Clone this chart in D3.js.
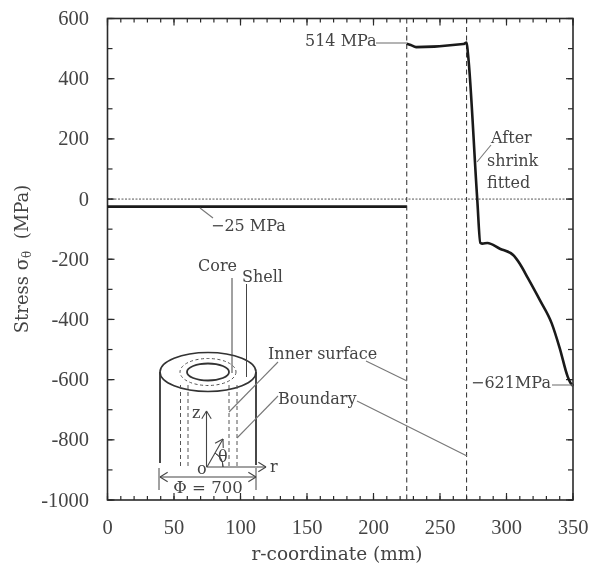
<!DOCTYPE html>
<html>
<head>
<meta charset="utf-8">
<script src="https://cdn.jsdelivr.net/npm/d3@7"></script>
<style>
  body { margin: 0; background: #fff; }
  svg { filter: blur(0.45px); }
  text { font-family: "DejaVu Serif", serif; fill: #444; }
  text.num { font-family: "Liberation Serif", serif; font-size: 20.5px; }
</style>
</head>
<body>
<div id="chart"></div>
<script>
var rCoord = [0, 225];
var coreStress = [-25, -25];

var shellR = [225, 228, 232, 267.5, 270, 271, 278, 280.3, 282, 285.6, 295, 305, 310, 316, 325, 334, 340, 346, 348, 350];
var shellStress = [516, 512, 505, 515, 520, 484, 0, -145, -148, -146, -165, -186, -215, -262, -335, -413, -495, -590, -610, -621];

var xTicks = d3.range(0, 351, 50);
var xMinor = d3.range(0, 351, 10);
var yTicks = d3.range(-1000, 601, 200);
var yMinor = d3.range(-1000, 601, 100);
var guideLines = [225, 270];

var W = 592, H = 567;
var left = 107.5, right = 573, top_ = 18.5, bottom = 500;

var svg = d3.select("#chart").append("svg")
    .attr("width", W)
    .attr("height", H);

var x = d3.scaleLinear().domain([0, 350]).range([left, right]);
var y = d3.scaleLinear().domain([-1000, 600]).range([bottom, top_]);

var ink = "#2a2a2a", grey = "#777";

// inward ticks on all four sides, majors longer
function ticks(vals, len) {
    vals.forEach(function(v) {
        svg.append("line").attr("x1", x(v)).attr("x2", x(v)).attr("y1", bottom).attr("y2", bottom - len).attr("stroke", ink).attr("stroke-width", 1.2);
        svg.append("line").attr("x1", x(v)).attr("x2", x(v)).attr("y1", top_).attr("y2", top_ + len).attr("stroke", ink).attr("stroke-width", 1.2);
    });
}
function yticks(vals, len) {
    vals.forEach(function(v) {
        svg.append("line").attr("y1", y(v)).attr("y2", y(v)).attr("x1", left).attr("x2", left + len).attr("stroke", ink).attr("stroke-width", 1.2);
        svg.append("line").attr("y1", y(v)).attr("y2", y(v)).attr("x1", right).attr("x2", right - len).attr("stroke", ink).attr("stroke-width", 1.2);
    });
}
ticks(xMinor, 4); ticks(xTicks, 7);
yticks(yMinor, 5); yticks(yTicks, 7);

svg.append("rect")
    .attr("x", left).attr("y", top_)
    .attr("width", right - left).attr("height", bottom - top_)
    .attr("fill", "none").attr("stroke", ink).attr("stroke-width", 1.6);

// tick labels
svg.selectAll(".xl").data(xTicks).enter().append("text")
    .attr("class", "num")
    .attr("x", function(d) { return x(d); })
    .attr("y", 534)
    .attr("text-anchor", "middle")
    .text(function(d) { return d; });

svg.selectAll(".yl").data(yTicks).enter().append("text")
    .attr("class", "num")
    .attr("x", 89)
    .attr("y", function(d) { return y(d) + 6.5; })
    .attr("text-anchor", "end")
    .text(function(d) { return d; });

svg.append("text").attr("x", 337).attr("y", 560).attr("text-anchor", "middle")
    .style("font-size", "18.5px").text("r-coordinate (mm)");

var yTitle = svg.append("text")
    .attr("transform", "translate(28,259) rotate(-90)")
    .attr("text-anchor", "middle")
    .style("font-size", "18px");
yTitle.append("tspan").text("Stress σ");
yTitle.append("tspan").attr("dy", 3).style("font-size", "12px").text("θ");
yTitle.append("tspan").attr("dy", -3).attr("xml:space", "preserve").text("  (MPa)");

// zero line and the two radius guides
svg.append("line")
    .attr("x1", left).attr("x2", right).attr("y1", y(0)).attr("y2", y(0))
    .attr("stroke", ink).attr("stroke-width", 0.8).attr("stroke-dasharray", "2,1.5");

guideLines.forEach(function(g) {
    svg.append("line")
        .attr("x1", x(g)).attr("x2", x(g)).attr("y1", top_).attr("y2", bottom)
        .attr("stroke", ink).attr("stroke-width", 1).attr("stroke-dasharray", "5,3.5");
});

// stress curve
var line = d3.line().x(function(d) { return x(d[0]); }).y(function(d) { return y(d[1]); });

svg.append("path")
    .datum(d3.zip(rCoord, coreStress))
    .attr("d", line)
    .attr("fill", "none").attr("stroke", "#1a1a1a").attr("stroke-width", 2.6);

svg.append("path")
    .datum(d3.zip(shellR, shellStress))
    .attr("d", line.curve(d3.curveMonotoneX))
    .attr("fill", "none").attr("stroke", "#1a1a1a").attr("stroke-width", 2.6).attr("stroke-linejoin", "round");

// annotations
function seg(x1, y1, x2, y2, col, w, dash) {
    return svg.append("line").attr("x1", x1).attr("y1", y1).attr("x2", x2).attr("y2", y2)
        .attr("stroke", col || grey).attr("stroke-width", w || 1.1)
        .attr("stroke-dasharray", dash || null);
}
function label(txt, tx, ty, size, anchor) {
    return svg.append("text").attr("x", tx).attr("y", ty)
        .attr("text-anchor", anchor || "start")
        .style("font-size", (size || 16) + "px").text(txt);
}

label("514 MPa", 305, 46);
seg(376, 43, 407, 43);
label("−25 MPa", 211, 231);
seg(200, 208, 213, 218);
label("After", 491, 143);
label("shrink", 487, 166);
label("fitted", 487, 188);
seg(491, 145, 477, 162);
label("−621MPa", 471, 388);
seg(552, 385, 573, 385);

// cylinder sketch
var cx = 208, cy = 372;
function ell(rx, ry, col, w, dash) {
    svg.append("ellipse").attr("cx", cx).attr("cy", cy).attr("rx", rx).attr("ry", ry)
        .attr("fill", "none").attr("stroke", col).attr("stroke-width", w)
        .attr("stroke-dasharray", dash || null);
}
seg(160, 372, 160, 463, "#333", 1.8);
seg(256, 372, 256, 465, "#333", 1.8);
ell(48, 19.5, "#333", 1.6);
ell(21, 8.5, "#333", 1.8);
ell(28, 13.5, "#555", 1, "3,2.5");
[180.5, 188, 229, 237].forEach(function(dx) {
    seg(dx, 385, dx, 466, "#555", 1, "4,3");
});

label("Core", 198, 271);
label("Shell", 242, 282);
seg(232, 278, 232, 373, "#444", 1);
seg(246.5, 284, 246.5, 377, "#444", 1);
label("Inner surface", 268, 359);
seg(278, 362, 229, 412);
seg(366, 361, 407, 381);
label("Boundary", 278, 404);
seg(278, 396, 237, 438);
seg(357, 401, 467, 456);

// axes of the sketch
function arrowHead(px, py, ang) {
    var a = ang * Math.PI / 180, l = 9, s = 0.55;
    seg(px, py, px - l * Math.cos(a - s), py - l * Math.sin(a - s), "#444", 1.1);
    seg(px, py, px - l * Math.cos(a + s), py - l * Math.sin(a + s), "#444", 1.1);
}
seg(206.5, 467, 206.5, 411, "#444", 1.1); arrowHead(206.5, 411, -90);
seg(206.5, 467, 266, 467, "#444", 1.1); arrowHead(266, 467, 0);
seg(207, 467, 223, 439, "#444", 1.1); arrowHead(223, 439, -60);
seg(160, 477, 256, 477, "#444", 1.1);
arrowHead(160, 477, 180); arrowHead(256, 477, 0);
seg(159, 468, 159, 490, "#444", 1);
seg(256, 468, 256, 490, "#444", 1);
svg.append("path").attr("d", d3.arc()({ innerRadius: 16, outerRadius: 16, startAngle: Math.PI / 6, endAngle: Math.PI / 2 }))
    .attr("transform", "translate(207,467)").attr("fill", "none").attr("stroke", "#444");

label("z", 192, 418);
label("o", 197, 474);
label("r", 270, 472);
label("θ", 218, 462);
label("Φ = 700", 208, 493, 16.5, "middle");
</script>
</body>
</html>
